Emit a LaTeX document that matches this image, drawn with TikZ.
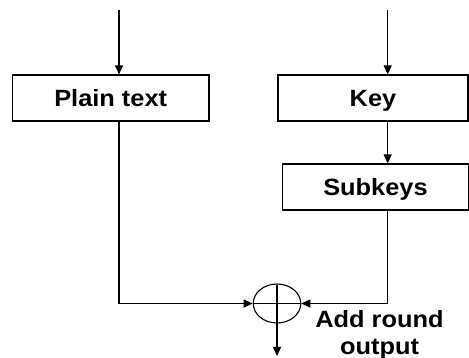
\documentclass[tikz,border=0pt]{standalone}
\usepackage{fontspec}
\setmainfont[FakeStretch=1.08]{Liberation Sans}
\usetikzlibrary{arrows.meta,shapes.geometric}
\begin{document}
\begin{tikzpicture}[x=1pt,y=-1pt,
  every node/.style={font=\bfseries\fontsize{23.5}{26.6}\selectfont},
  blk/.style={draw,line width=1.1pt,inner sep=0pt,text height=16.8pt,text depth=0pt},
  wire/.style={line width=1.1pt},
  arr/.style={wire,-{Triangle[length=9pt,width=8pt]}}]
  \useasboundingbox (0,0) rectangle (469,358);
  % blocks
  \node[blk,minimum width=196.5pt,minimum height=46pt] (pt) at (110.7,98) {Plain text};
  \node[blk,minimum width=190pt,minimum height=46pt] (key) at (373,98) {Key};
  \node[blk,minimum width=185.5pt,minimum height=46pt] (sub) at (375.5,187) {Subkeys};
  % xor combiner
  \node[draw,ellipse,line width=1.1pt,minimum width=47.5pt,minimum height=39pt,inner sep=0pt] (xor) at (277,303.5) {};
  \draw[wire] ([yshift=-1.5pt]xor.north) -- (xor.south) (xor.west) -- (xor.east);
  % inputs and output
  \coordinate (ptin) at (119,10);
  \coordinate (keyin) at (387.7,10);
  \coordinate (out) at (277,356);
  \draw[arr] (ptin) -- (ptin |- pt.north);
  \draw[arr] (keyin) -- (keyin |- key.north);
  \draw[arr] (keyin |- key.south) -- (keyin |- sub.north);
  \draw[arr] (ptin |- pt.south) |- (xor.west);
  \draw[arr] (keyin |- sub.south) |- (xor.east);
  \draw[arr] (xor.south) -- (out);
  \node[align=center,inner sep=0pt] (lbl) at (379.5,335) {Add round\\output};
\end{tikzpicture}
\end{document}
